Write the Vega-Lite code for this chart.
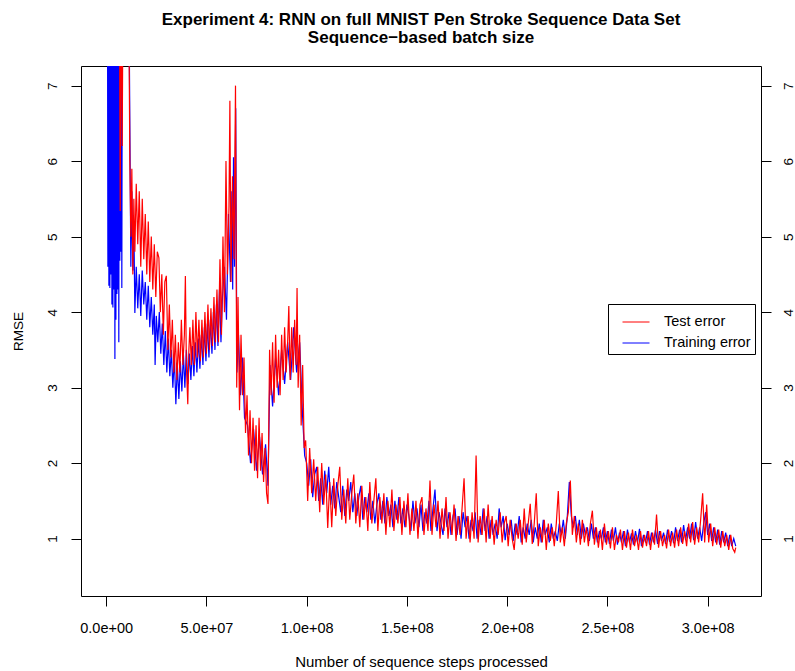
{
  "$schema": "https://vega.github.io/schema/vega-lite/v6.json",
  "width": 680,
  "height": 530,
  "autosize": {"type": "none"},
  "padding": {"left": 81, "top": 66, "right": 34, "bottom": 75},
  "background": "white",
  "config": {
    "view": {"stroke": "black", "strokeWidth": 1},
    "font": "Liberation Sans"
  },
  "title": {
    "text": ["Experiment 4: RNN on full MNIST Pen Stroke Sequence Data Set", "Sequence−based batch size"],
    "font": "Liberation Sans",
    "fontSize": 17,
    "fontWeight": "bold",
    "color": "black",
    "anchor": "middle",
    "lineHeight": 18,
    "offset": 19
  },
  "datasets": {
    "train": [
      {"x":0.6,"y":9.5},{"x":0.85,"y":4.6},{"x":1.1,"y":9},{"x":1.35,"y":4.35},{"x":1.6,"y":9.5},{"x":1.85,"y":4.32},{"x":2.1,"y":10},{"x":2.35,"y":4.5},{"x":2.6,"y":9},{"x":2.85,"y":4.1},{"x":3.1,"y":9.5},{"x":3.35,"y":4.06},{"x":3.6,"y":9},{"x":3.85,"y":4.3},{"x":4.1,"y":9},{"x":4.35,"y":3.38},{"x":4.6,"y":9},{"x":4.85,"y":3.9},{"x":5.1,"y":9},{"x":5.35,"y":4.24},{"x":5.6,"y":9.5},{"x":5.85,"y":4.3},{"x":6.1,"y":9},{"x":6.3,"y":3.6},{"x":6.55,"y":9},{"x":6.8,"y":4.68},{"x":7.05,"y":9},{"x":7.3,"y":4.8},{"x":7.55,"y":9},{"x":7.8,"y":4.32},{"x":8.1,"y":9},{"x":9.0,"y":10},{"x":10.0,"y":9},{"x":11.0,"y":9.5},{"x":11.8,"y":6.5},{"x":12.3,"y":4.6},{"x":12.8,"y":5.6},{"x":13.3,"y":4.55},{"x":13.8,"y":5.2},{"x":14.3,"y":3.99},
      {"x":15,"y":4.6},{"x":15.75,"y":4.05},{"x":16.5,"y":4.5},{"x":17.25,"y":3.95},{"x":18,"y":4.55},{"x":18.75,"y":4.1},{"x":19.5,"y":4.4},{"x":20.25,"y":3.9},{"x":21,"y":4.35},{"x":21.75,"y":3.8},{"x":22.5,"y":4.2},{"x":23.25,"y":3.7},{"x":24,"y":4.1},{"x":24.4,"y":3.3},{"x":25,"y":3.95},{"x":25.75,"y":3.6},{"x":26.5,"y":4.0},{"x":27.25,"y":3.45},{"x":28,"y":3.85},{"x":28.75,"y":3.3},{"x":29.5,"y":3.75},{"x":30.25,"y":3.2},{"x":31,"y":3.65},{"x":31.75,"y":3.15},{"x":32.5,"y":3.5},{"x":33.25,"y":3.0},{"x":34,"y":3.4},{"x":34.75,"y":2.78},{"x":35.5,"y":3.3},{"x":36.25,"y":2.85},{"x":37,"y":3.35},{"x":37.75,"y":2.95},{"x":38.5,"y":3.45},{"x":39.25,"y":3.0},{"x":40,"y":3.5},{"x":40.75,"y":3.05},{"x":41.5,"y":3.45},{"x":42.25,"y":3.1},{"x":43,"y":3.55},{"x":43.75,"y":3.15},{"x":44.5,"y":3.6},{"x":45.25,"y":3.2},{"x":46,"y":3.65},{"x":46.75,"y":3.25},{"x":47.5,"y":3.7},{"x":48.25,"y":3.3},{"x":49,"y":3.8},{"x":49.75,"y":3.35},{"x":50.5,"y":3.85},{"x":51.25,"y":3.4},{"x":52,"y":3.9},{"x":52.75,"y":3.45},{"x":53.5,"y":4.0},{"x":54.25,"y":3.5},{"x":55,"y":4.1},{"x":55.75,"y":3.55},{"x":56.5,"y":4.3},
      {"x":57.25,"y":3.6},{"x":58,"y":4.2},{"x":59,"y":4.6},{"x":60,"y":3.9},{"x":61,"y":5.3},{"x":62,"y":4.4},{"x":62.7,"y":5.6},{"x":63.1,"y":4.3},{"x":63.5,"y":6.05},{"x":64,"y":4.6},{"x":64.6,"y":6.7},{"x":65.2,"y":3.2},{"x":66,"y":3.7},{"x":67,"y":2.9},{"x":68,"y":3.4},{"x":69,"y":2.6},{"x":70.5,"y":2.5},{"x":72,"y":2.0},{"x":73.5,"y":2.45},{"x":75,"y":1.9},{"x":76.5,"y":2.35},{"x":78,"y":1.85},{"x":79.5,"y":2.25},{"x":80.7,"y":1.7},{"x":81.7,"y":3.3},{"x":83,"y":2.75},{"x":84.5,"y":3.4},{"x":86,"y":2.9},{"x":87.5,"y":3.5},{"x":89,"y":3.05},{"x":90.5,"y":3.6},{"x":92,"y":3.1},{"x":93.5,"y":3.8},{"x":95,"y":3.2},{"x":96.5,"y":3.6},{"x":98,"y":2.6},{"x":99,"y":2.1},
      {"x":100,"y":2.0},{"x":101,"y":1.7},{"x":102,"y":2.05},{"x":103,"y":1.55},{"x":104,"y":1.85},{"x":105,"y":1.95},{"x":106,"y":1.5},{"x":107,"y":1.8},{"x":108,"y":1.45},{"x":109,"y":1.9},{"x":110,"y":1.6},{"x":111,"y":1.95},{"x":112,"y":1.45},{"x":113,"y":1.7},{"x":114,"y":1.4},{"x":115,"y":1.75},{"x":116,"y":1.55},{"x":117,"y":1.35},{"x":118,"y":1.7},{"x":119,"y":1.3},{"x":120,"y":1.65},{"x":121,"y":1.5},{"x":122,"y":1.75},{"x":123,"y":1.35},{"x":124,"y":1.6},{"x":125,"y":1.3},{"x":126,"y":1.55},{"x":127,"y":1.7},{"x":128,"y":1.25},{"x":129,"y":1.55},{"x":130,"y":1.35},{"x":131,"y":1.6},{"x":132,"y":1.25},{"x":133,"y":1.5},{"x":134,"y":1.2},{"x":135,"y":1.45},{"x":136,"y":1.6},{"x":137,"y":1.25},{"x":138,"y":1.5},{"x":139,"y":1.2},{"x":140,"y":1.55},{"x":141,"y":1.3},{"x":142,"y":1.45},{"x":143,"y":1.15},{"x":144,"y":1.5},{"x":145,"y":1.25},{"x":146,"y":1.55},{"x":147,"y":1.2},{"x":148,"y":1.4},{"x":149,"y":1.15},{"x":150,"y":1.45},{"x":151,"y":1.3},{"x":152,"y":1.1},{"x":153,"y":1.5},{"x":154,"y":1.2},{"x":155,"y":1.4},{"x":156,"y":1.15},{"x":157,"y":1.45},{"x":158,"y":1.1},{"x":159,"y":1.35},{"x":160,"y":1.2},{"x":161,"y":1.5},{"x":162,"y":1.1},{"x":163,"y":1.4},{"x":164,"y":1.65},{"x":165,"y":1.1},{"x":166,"y":1.35},{"x":167,"y":1.2},{"x":168,"y":1.05},{"x":169,"y":1.4},{"x":170,"y":1.15},{"x":171,"y":1.35},{"x":172,"y":1.05},{"x":173,"y":1.3},{"x":174,"y":1.4},{"x":175,"y":1.05},{"x":176,"y":1.3},{"x":177,"y":1.0},{"x":178,"y":1.35},{"x":179,"y":1.15},{"x":180,"y":1.3},{"x":181,"y":1.0},{"x":182,"y":1.25},{"x":183,"y":1.1},{"x":184,"y":1.35},{"x":185,"y":1.0},{"x":186,"y":1.25},{"x":187,"y":1.05},{"x":188,"y":1.4},{"x":189,"y":1.1},{"x":190,"y":1.3},{"x":191,"y":1.0},{"x":192,"y":1.25},{"x":193,"y":1.05},{"x":194,"y":1.2},{"x":195,"y":1.0},{"x":196,"y":1.4},{"x":197,"y":1.15},{"x":198,"y":1.3},{"x":199,"y":0.98},{"x":200,"y":1.2},
      {"x":201,"y":1.05},{"x":202,"y":1.25},{"x":203,"y":0.97},{"x":204,"y":1.2},{"x":205,"y":1.05},{"x":206,"y":1.3},{"x":207,"y":0.95},{"x":208,"y":1.15},{"x":209,"y":1.0},{"x":210,"y":1.2},{"x":211,"y":1.05},{"x":212,"y":1.25},{"x":213,"y":0.95},{"x":214,"y":1.15},{"x":215,"y":1.0},{"x":216,"y":1.2},{"x":217,"y":0.95},{"x":218,"y":1.25},{"x":219,"y":1.05},{"x":220,"y":1.15},{"x":221,"y":0.95},{"x":222,"y":1.2},{"x":223,"y":1.0},{"x":224,"y":1.1},{"x":225,"y":0.97},{"x":226,"y":1.2},{"x":227,"y":1.05},{"x":228,"y":1.25},{"x":229,"y":1.0},{"x":230,"y":1.3},{"x":231,"y":1.75},{"x":232,"y":1.3},{"x":233,"y":1.15},{"x":234,"y":1.3},{"x":235,"y":1.05},{"x":236,"y":1.25},{"x":237,"y":1.0},{"x":238,"y":1.2},{"x":239,"y":1.05},{"x":240,"y":1.15},{"x":241,"y":0.97},{"x":242,"y":1.2},{"x":243,"y":1.0},{"x":244,"y":1.15},{"x":245,"y":0.95},{"x":246,"y":1.1},{"x":247,"y":1.0},{"x":248,"y":1.15},{"x":249,"y":0.95},{"x":250,"y":1.1},{"x":251,"y":0.93},{"x":252,"y":1.12},{"x":253,"y":0.97},{"x":254,"y":1.15},{"x":255,"y":0.92},{"x":256,"y":1.08},{"x":257,"y":0.95},{"x":258,"y":1.1},{"x":259,"y":0.9},{"x":260,"y":1.12},{"x":261,"y":0.95},{"x":262,"y":1.07},{"x":263,"y":0.92},{"x":264,"y":1.1},{"x":265,"y":0.95},{"x":266,"y":1.13},{"x":267,"y":0.9},{"x":268,"y":1.05},{"x":269,"y":0.95},{"x":270,"y":1.1},{"x":271,"y":0.92},{"x":272,"y":1.08},{"x":273,"y":0.95},{"x":274,"y":1.12},{"x":275,"y":0.93},{"x":276,"y":1.1},{"x":277,"y":0.97},{"x":278,"y":1.08},{"x":279,"y":0.93},{"x":280,"y":1.12},{"x":281,"y":0.96},{"x":282,"y":1.1},{"x":283,"y":0.94},{"x":284,"y":1.15},{"x":285,"y":0.97},{"x":286,"y":1.12},{"x":287,"y":0.95},{"x":288,"y":1.18},{"x":289,"y":0.98},{"x":290,"y":1.15},{"x":291,"y":1.0},{"x":292,"y":1.2},{"x":293,"y":0.98},{"x":294,"y":1.22},{"x":295,"y":1.0},{"x":296,"y":1.15},{"x":297,"y":0.97},{"x":298,"y":1.2},{"x":299,"y":1.35},{"x":300,"y":1.05},{"x":301,"y":1.2},{"x":302,"y":0.97},{"x":303,"y":1.15},{"x":304,"y":0.95},{"x":305,"y":1.12},{"x":306,"y":0.92},{"x":307,"y":1.1},{"x":308,"y":0.95},{"x":309,"y":1.08},{"x":310,"y":0.9},{"x":311,"y":1.05},{"x":312,"y":0.9},{"x":313,"y":1.0},{"x":314,"y":0.9}
    ],
    "test": [
      {"x":6.5,"y":9},{"x":7.0,"y":5.34},{"x":7.5,"y":9},{"x":8.0,"y":6.2},{"x":8.5,"y":9},{"x":9.5,"y":9.5},{"x":10.5,"y":9},{"x":11.3,"y":8},{"x":11.8,"y":6.0},{"x":12.3,"y":5.0},{"x":12.8,"y":5.9},{"x":13.3,"y":4.5},{"x":13.8,"y":5.5},{"x":14.3,"y":4.8},
      {"x":15,"y":5.7},{"x":15.75,"y":4.9},{"x":16.5,"y":5.6},{"x":17.25,"y":4.6},{"x":18,"y":5.5},{"x":18.75,"y":4.7},{"x":19.5,"y":5.3},{"x":20.25,"y":4.5},{"x":21,"y":5.2},{"x":21.75,"y":4.4},{"x":22.5,"y":5.0},{"x":23.25,"y":4.3},{"x":24,"y":4.9},{"x":24.75,"y":4.2},{"x":25.5,"y":4.8},{"x":26.3,"y":4.72},{"x":27,"y":4.0},{"x":27.75,"y":4.5},{"x":28.5,"y":3.7},{"x":29.25,"y":4.4},{"x":30,"y":4.48},{"x":30.75,"y":3.5},{"x":31.5,"y":4.1},{"x":32.25,"y":3.4},{"x":33,"y":3.9},{"x":33.75,"y":3.2},{"x":34.5,"y":3.7},{"x":35.25,"y":3.1},{"x":36,"y":3.6},{"x":36.75,"y":3.2},{"x":37.5,"y":3.9},{"x":38.25,"y":3.3},{"x":39,"y":3.7},{"x":39.5,"y":4.48},{"x":40,"y":3.3},{"x":40.7,"y":2.78},{"x":41.25,"y":3.5},{"x":41.75,"y":3.8},{"x":42.5,"y":3.3},{"x":43.25,"y":3.9},{"x":44,"y":3.3},{"x":44.75,"y":4.0},{"x":45.5,"y":3.4},{"x":46.25,"y":3.9},{"x":47,"y":3.35},{"x":47.75,"y":3.9},{"x":48.5,"y":3.4},{"x":49.25,"y":4.0},{"x":50,"y":3.45},{"x":50.75,"y":4.1},{"x":51.5,"y":3.5},{"x":52.25,"y":4.05},{"x":53,"y":3.55},{"x":53.75,"y":4.2},{"x":54.5,"y":3.6},{"x":55.25,"y":4.3},{"x":56,"y":3.6},{"x":56.75,"y":4.7},{"x":57.5,"y":3.7},{"x":58.25,"y":5.0},{"x":59,"y":4.0},{"x":59.75,"y":6.0},{"x":60.5,"y":4.5},{"x":61.25,"y":5.4},{"x":61.7,"y":6.8},{"x":62.25,"y":4.4},{"x":63,"y":5.8},{"x":63.75,"y":4.7},{"x":64.5,"y":7.0},{"x":65.1,"y":3.0},{"x":65.75,"y":4.2},{"x":66.5,"y":2.7},{"x":67.25,"y":3.7},{"x":68,"y":2.9},{"x":68.75,"y":3.4},{"x":69.5,"y":2.4},{"x":70.25,"y":2.9},{"x":71,"y":2.1},{"x":71.75,"y":2.7},{"x":72.5,"y":2.0},{"x":73.25,"y":2.6},{"x":74,"y":1.9},{"x":74.75,"y":2.5},{"x":75.5,"y":1.8},{"x":76.25,"y":2.6},{"x":77,"y":1.9},{"x":77.75,"y":2.4},{"x":78.5,"y":1.75},{"x":79.25,"y":2.2},{"x":80,"y":1.6},{"x":80.7,"y":1.46},{"x":81.5,"y":3.5},{"x":82.25,"y":2.9},{"x":83,"y":3.6},{"x":83.75,"y":2.8},{"x":84.5,"y":3.7},{"x":85.25,"y":3.0},{"x":86,"y":3.5},{"x":86.75,"y":2.9},{"x":87.5,"y":3.7},{"x":88.25,"y":3.1},{"x":89,"y":3.8},{"x":89.75,"y":3.2},{"x":90.5,"y":3.6},{"x":91.1,"y":4.08},{"x":91.75,"y":3.1},{"x":92.5,"y":3.8},{"x":93.25,"y":3.2},{"x":94,"y":3.9},{"x":94.75,"y":3.3},{"x":95.2,"y":4.32},{"x":95.75,"y":3.0},{"x":96.5,"y":3.7},{"x":97.25,"y":2.5},{"x":98,"y":3.3},{"x":98.75,"y":2.2},{"x":99.5,"y":2.3},
      {"x":100.5,"y":1.5},{"x":101.5,"y":2.2},{"x":102.5,"y":1.6},{"x":103.5,"y":2.05},{"x":104.5,"y":1.5},{"x":105.5,"y":1.95},{"x":106.5,"y":1.35},{"x":107.5,"y":2.0},{"x":108.5,"y":1.45},{"x":109.5,"y":1.85},{"x":110.5,"y":1.14},{"x":111.5,"y":1.75},{"x":112.5,"y":1.15},{"x":113.5,"y":1.8},{"x":114.5,"y":1.3},{"x":115.5,"y":1.7},{"x":116.5,"y":1.95},{"x":117.5,"y":1.25},{"x":118.5,"y":1.65},{"x":119.5,"y":1.2},{"x":120.5,"y":1.8},{"x":121.5,"y":1.25},{"x":122.5,"y":1.6},{"x":123.5,"y":1.85},{"x":124.5,"y":1.2},{"x":125.5,"y":1.6},{"x":126.5,"y":1.15},{"x":127.5,"y":1.7},{"x":128.5,"y":1.25},{"x":129.5,"y":1.55},{"x":130.5,"y":1.1},{"x":131.5,"y":1.75},{"x":132.5,"y":1.2},{"x":133.5,"y":1.5},{"x":134.5,"y":1.8},{"x":135.5,"y":1.1},{"x":136.5,"y":1.55},{"x":137.5,"y":1.2},{"x":138.5,"y":1.6},{"x":139.5,"y":1.05},{"x":140.5,"y":1.5},{"x":141.5,"y":1.15},{"x":142.5,"y":1.65},{"x":143.5,"y":1.1},{"x":144.5,"y":1.45},{"x":145.5,"y":1.2},{"x":146.5,"y":1.55},{"x":147.5,"y":1.05},{"x":148.5,"y":1.5},{"x":149.5,"y":1.15},{"x":150.5,"y":1.6},{"x":151.5,"y":1.05},{"x":152.5,"y":1.4},{"x":153.5,"y":1.1},{"x":154.5,"y":1.5},{"x":155.5,"y":1.0},{"x":156.5,"y":1.45},{"x":157.5,"y":1.55},{"x":158.5,"y":1.05},{"x":159.5,"y":1.4},{"x":160.5,"y":1.1},{"x":161.5,"y":1.77},{"x":162.5,"y":1.05},{"x":163.5,"y":1.45},{"x":164.5,"y":1.15},{"x":165.5,"y":1.5},{"x":166.5,"y":1.0},{"x":167.5,"y":1.4},{"x":168.5,"y":1.1},{"x":169.5,"y":1.55},{"x":170.5,"y":1.0},{"x":171.5,"y":1.35},{"x":172.5,"y":1.05},{"x":173.5,"y":1.45},{"x":174.5,"y":0.97},{"x":175.5,"y":1.3},{"x":176.5,"y":1.05},{"x":177.5,"y":1.4},{"x":178.5,"y":1.8},{"x":179.5,"y":1.0},{"x":180.5,"y":1.3},{"x":181.5,"y":0.95},{"x":182.5,"y":1.35},{"x":183.5,"y":1.0},{"x":184.5,"y":2.1},{"x":185.5,"y":0.95},{"x":186.5,"y":1.3},{"x":187.5,"y":1.05},{"x":188.5,"y":1.4},{"x":189.5,"y":0.95},{"x":190.5,"y":1.45},{"x":191.5,"y":1.0},{"x":192.5,"y":1.3},{"x":193.5,"y":0.92},{"x":194.5,"y":1.25},{"x":195.5,"y":1.05},{"x":196.5,"y":1.35},{"x":197.5,"y":0.95},{"x":198.5,"y":1.2},{"x":199.5,"y":1.3},
      {"x":200.5,"y":0.9},{"x":201.5,"y":1.25},{"x":202.5,"y":1.0},{"x":203.5,"y":0.85},{"x":204.5,"y":1.2},{"x":205.5,"y":1.0},{"x":206.5,"y":1.25},{"x":207.5,"y":0.92},{"x":208.5,"y":1.4},{"x":209.5,"y":0.95},{"x":210.5,"y":1.2},{"x":211.5,"y":1.46},{"x":212.5,"y":0.93},{"x":213.5,"y":1.2},{"x":214.5,"y":1.6},{"x":215.5,"y":0.9},{"x":216.5,"y":1.15},{"x":217.5,"y":0.95},{"x":218.5,"y":1.25},{"x":219.5,"y":0.85},{"x":220.5,"y":1.2},{"x":221.5,"y":0.97},{"x":222.5,"y":1.15},{"x":223.5,"y":0.9},{"x":224.5,"y":1.2},{"x":225.5,"y":1.63},{"x":226.5,"y":0.95},{"x":227.5,"y":1.15},{"x":228.5,"y":0.9},{"x":229.5,"y":1.2},{"x":230.5,"y":1.35},{"x":231.5,"y":1.77},{"x":232.5,"y":1.05},{"x":233.5,"y":1.3},{"x":234.5,"y":0.95},{"x":235.5,"y":1.2},{"x":236.5,"y":0.92},{"x":237.5,"y":1.25},{"x":238.5,"y":0.95},{"x":239.5,"y":1.15},{"x":240.5,"y":0.9},{"x":241.5,"y":1.2},{"x":242.5,"y":1.37},{"x":243.5,"y":0.92},{"x":244.5,"y":1.15},{"x":245.5,"y":0.88},{"x":246.5,"y":1.12},{"x":247.5,"y":0.85},{"x":248.5,"y":1.2},{"x":249.5,"y":0.92},{"x":250.5,"y":1.1},{"x":251.5,"y":0.87},{"x":252.5,"y":1.15},{"x":253.5,"y":0.85},{"x":254.5,"y":1.05},{"x":255.5,"y":0.95},{"x":256.5,"y":1.12},{"x":257.5,"y":0.85},{"x":258.5,"y":1.1},{"x":259.5,"y":0.88},{"x":260.5,"y":1.08},{"x":261.5,"y":0.85},{"x":262.5,"y":1.12},{"x":263.5,"y":0.9},{"x":264.5,"y":1.05},{"x":265.5,"y":0.85},{"x":266.5,"y":1.1},{"x":267.5,"y":0.88},{"x":268.5,"y":1.05},{"x":269.5,"y":0.9},{"x":270.5,"y":1.1},{"x":271.5,"y":0.85},{"x":272.5,"y":1.08},{"x":273.5,"y":0.92},{"x":274.5,"y":1.32},{"x":275.5,"y":0.88},{"x":276.5,"y":1.1},{"x":277.5,"y":0.9},{"x":278.5,"y":1.05},{"x":279.5,"y":0.87},{"x":280.5,"y":1.12},{"x":281.5,"y":0.9},{"x":282.5,"y":1.08},{"x":283.5,"y":0.88},{"x":284.5,"y":1.12},{"x":285.5,"y":0.9},{"x":286.5,"y":1.15},{"x":287.5,"y":0.93},{"x":288.5,"y":1.1},{"x":289.5,"y":0.9},{"x":290.5,"y":1.2},{"x":291.5,"y":0.95},{"x":292.5,"y":1.22},{"x":293.5,"y":0.92},{"x":294.5,"y":1.15},{"x":295.5,"y":0.95},{"x":296.5,"y":1.25},{"x":297.5,"y":1.6},{"x":298.5,"y":0.95},{"x":299.5,"y":1.45},{"x":300.5,"y":0.95},{"x":301.5,"y":1.2},{"x":302.5,"y":0.9},{"x":303.5,"y":1.15},{"x":304.5,"y":0.92},{"x":305.5,"y":1.12},{"x":306.5,"y":0.88},{"x":307.5,"y":1.1},{"x":308.5,"y":0.9},{"x":309.5,"y":1.05},{"x":310.5,"y":0.85},{"x":311.5,"y":1.05},{"x":312.5,"y":0.87},{"x":313.5,"y":0.82},{"x":314,"y":0.88}
    ]
  },
  "layer": [
    {
      "data": {"name": "train"},
      "mark": {"type": "line", "strokeWidth": 1.2, "clip": true, "interpolate": "linear"},
      "encoding": {
        "x": {
          "field": "x", "type": "quantitative",
          "scale": {"domain": [-12.56, 326.6], "nice": false, "zero": false},
          "axis": {
            "values": [0, 50, 100, 150, 200, 250, 300],
            "labelExpr": "replace(format(datum.value * 1000000, '.1e'), 'e+', 'e+0')",
            "title": "Number of sequence steps processed",
            "titleFont": "Liberation Sans", "titleFontSize": 15, "titleFontWeight": "normal", "titleColor": "black",
            "titleY": 65, "titleBaseline": "middle",
            "labelFont": "Liberation Sans", "labelFontSize": 14.5, "labelColor": "black", "labelPadding": 15,
            "tickSize": 10, "tickColor": "black", "domain": false, "grid": false, "labelFlush": false
          }
        },
        "y": {
          "field": "y", "type": "quantitative",
          "scale": {"domain": [0.24, 7.26], "nice": false, "zero": false},
          "axis": {
            "orient": "left",
            "values": [1, 2, 3, 4, 5, 6, 7],
            "title": "RMSE",
            "titleFont": "Liberation Sans", "titleFontSize": 13.5, "titleFontWeight": "normal", "titleColor": "black",
            "titleX": -63, "titleY": 265, "titleAngle": 270, "titleBaseline": "middle", "titleAlign": "center",
            "labelAngle": -90, "labelAlign": "center", "labelBaseline": "bottom",
            "labelFont": "Liberation Sans", "labelFontSize": 13.5, "labelColor": "black", "labelPadding": 12,
            "tickSize": 10, "tickColor": "black", "domain": false, "grid": false, "labelFlush": false
          }
        },
        "color": {
          "datum": "Training error",
          "type": "nominal",
          "scale": {"domain": ["Test error", "Training error"], "range": ["red", "blue"]},
          "legend": {
            "title": null,
            "orient": "none",
            "legendX": 527,
            "legendY": 238,
            "symbolType": "stroke",
            "symbolSize": 729,
            "symbolStrokeWidth": 1,
            "symbolOffset": 10,
            "labelFont": "Liberation Sans",
            "labelFontSize": 14.5,
            "labelColor": "black",
            "labelOffset": 14,
            "padding": 4,
            "rowPadding": -9,
            "strokeColor": "black",
            "fillColor": "white",
            "cornerRadius": 0
          }
        }
      }
    },
    {
      "data": {"name": "test"},
      "mark": {"type": "line", "strokeWidth": 1.2, "clip": true, "interpolate": "linear"},
      "encoding": {
        "x": {"field": "x", "type": "quantitative"},
        "y": {
          "field": "y", "type": "quantitative",
          "axis": {
            "orient": "right",
            "values": [1, 2, 3, 4, 5, 6, 7],
            "title": null,
            "labelAngle": -90, "labelAlign": "center", "labelBaseline": "top",
            "labelFont": "Liberation Sans", "labelFontSize": 13.5, "labelColor": "black", "labelPadding": 10,
            "tickSize": 10, "tickColor": "black", "domain": false, "grid": false, "labelFlush": false
          }
        },
        "color": {"datum": "Test error", "type": "nominal"}
      }
    }
  ],
  "resolve": {"axis": {"y": "independent"}}
}
